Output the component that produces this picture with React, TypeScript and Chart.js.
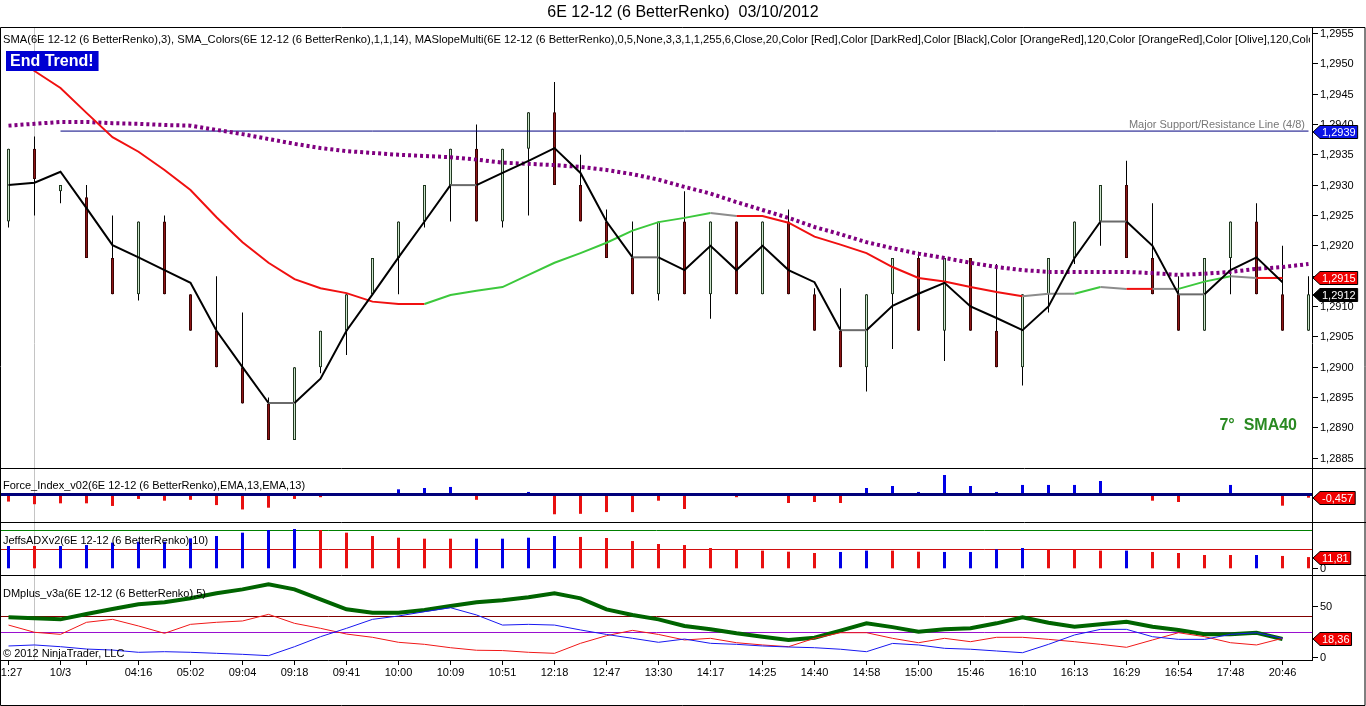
import { useEffect, useRef } from 'react';
import { Chart, registerables } from 'chart.js';

Chart.register(...registerables);

const FONT = '"Liberation Sans", Arial, Helvetica, sans-serif';

// ---------- texts ----------
const chartTitle = '6E 12-12 (6 BetterRenko)  03/10/2012';
const priceIndicatorVisible =
  'SMA(6E 12-12 (6 BetterRenko),3), SMA_Colors(6E 12-12 (6 BetterRenko),1,1,14), MASlopeMulti(6E 12-12 (6 BetterRenko),0,5,None,3,3,1,1,255,6,Close,20,Color [Red],Color [DarkRed],Color [Black],Color [OrangeRed],120,Color [OrangeRed],Color [Olive],120,Col';
const priceIndicatorLabel = priceIndicatorVisible + 'or [Olive],Color [Green]';
const forceLabel = 'Force_Index_v02(6E 12-12 (6 BetterRenko),EMA,13,EMA,13)';
const adxLabel = 'JeffsADXv2(6E 12-12 (6 BetterRenko),10)';
const dmLabel = 'DMplus_v3a(6E 12-12 (6 BetterRenko),5)';
const copyrightLabel = '\u00a9 2012 NinjaTrader, LLC';
const srLabel = 'Major Support/Resistance Line (4/8)';
const signalText = 'End Trend!';
const slopeText = '7\u00b0  SMA40';

// ---------- x axis ----------
const xTickIndex = [0, 2, 3, 5, 7, 9, 11, 13, 15, 17, 19, 21, 23, 25, 27, 29, 31, 33, 35, 37, 39, 41, 43, 45, 47, 49];
const xTickLabels = ['21:27', '10/3', '', '04:16', '05:02', '09:04', '09:18', '09:41', '10:00', '10:09', '10:51', '12:18', '12:47', '13:30', '14:17', '14:25', '14:40', '14:58', '15:00', '15:46', '16:10', '16:13', '16:29', '16:54', '17:48', '20:46'];

// ---------- price panel ----------
const opens = [1.2924, 1.2936, 1.2929, 1.2928, 1.2918, 1.2912, 1.2924, 1.2912, 1.2906, 1.2900, 1.2894, 1.2888, 1.2900, 1.2906, 1.2912, 1.2918, 1.2924, 1.2930, 1.2936, 1.2924, 1.2936, 1.2942, 1.2930, 1.2924, 1.2918, 1.2912, 1.2924, 1.2912, 1.2924, 1.2912, 1.2924, 1.2912, 1.2906, 1.2900, 1.2912, 1.2918, 1.2906, 1.2918, 1.2906, 1.2900, 1.2912, 1.2918, 1.2924, 1.2930, 1.2918, 1.2912, 1.2906, 1.2918, 1.2924, 1.2912, 1.2906];
const highs = [1.2936, 1.2938, 1.2930, 1.2930, 1.2925, 1.2924, 1.2925, 1.2912, 1.2915, 1.2909, 1.2895, 1.2900, 1.2906, 1.2912, 1.2918, 1.2924, 1.2930, 1.2936, 1.2940, 1.2936, 1.2942, 1.2947, 1.2935, 1.2926, 1.2924, 1.2924, 1.2929, 1.2924, 1.2924, 1.2924, 1.2926, 1.2913, 1.2913, 1.2912, 1.2918, 1.2919, 1.2918, 1.2918, 1.2917, 1.2912, 1.2918, 1.2924, 1.2930, 1.2934, 1.2927, 1.2915, 1.2918, 1.2924, 1.2927, 1.2920, 1.2915];
const lows = [1.2923, 1.2925, 1.2927, 1.2918, 1.2912, 1.2911, 1.2912, 1.2906, 1.2900, 1.2894, 1.2888, 1.2888, 1.2899, 1.2902, 1.2912, 1.2912, 1.2923, 1.2924, 1.2924, 1.2923, 1.2925, 1.2930, 1.2924, 1.2918, 1.2912, 1.2911, 1.2912, 1.2908, 1.2912, 1.2912, 1.2912, 1.2906, 1.2900, 1.2896, 1.2903, 1.2906, 1.2901, 1.2906, 1.2900, 1.2897, 1.2909, 1.2917, 1.2920, 1.2918, 1.2912, 1.2906, 1.2906, 1.2912, 1.2912, 1.2906, 1.2906];
const closes = [1.2936, 1.2931, 1.2930, 1.2918, 1.2912, 1.2924, 1.2912, 1.2906, 1.2900, 1.2894, 1.2888, 1.2900, 1.2906, 1.2912, 1.2918, 1.2924, 1.2930, 1.2936, 1.2924, 1.2936, 1.2942, 1.2930, 1.2924, 1.2918, 1.2912, 1.2924, 1.2912, 1.2924, 1.2912, 1.2924, 1.2912, 1.2906, 1.2900, 1.2912, 1.2918, 1.2906, 1.2918, 1.2906, 1.2900, 1.2912, 1.2918, 1.2924, 1.2930, 1.2918, 1.2912, 1.2906, 1.2918, 1.2924, 1.2912, 1.2906, 1.2912];

const sma3 = [1.29300, 1.29304, 1.29322, 1.29262, 1.29201, 1.29181, 1.29160, 1.29139, 1.29060, 1.29000, 1.28941, 1.28941, 1.28981, 1.29060, 1.29120, 1.29181, 1.29240, 1.29300, 1.29300, 1.29320, 1.29340, 1.29361, 1.29320, 1.29240, 1.29181, 1.29181, 1.29160, 1.29200, 1.29160, 1.29200, 1.29160, 1.29140, 1.29061, 1.29061, 1.29101, 1.29121, 1.29139, 1.29100, 1.29081, 1.29061, 1.29100, 1.29180, 1.29240, 1.29240, 1.29200, 1.29120, 1.29120, 1.29160, 1.29181, 1.29140, null];
const maSlope = [1.29515, 1.29488, 1.29460, 1.29419, 1.29379, 1.29355, 1.29325, 1.29292, 1.29247, 1.29206, 1.29172, 1.29145, 1.29130, 1.29122, 1.29108, 1.29104, 1.29104, 1.29119, 1.29126, 1.29132, 1.29152, 1.29172, 1.29188, 1.29205, 1.29225, 1.29239, 1.29246, 1.29254, 1.29249, 1.29249, 1.29238, 1.29215, 1.29202, 1.29188, 1.29165, 1.29147, 1.29141, 1.29132, 1.29124, 1.29117, 1.29121, 1.29121, 1.29132, 1.29129, 1.29129, 1.29129, 1.29141, 1.29150, 1.29147, 1.29147, null];
// slope state of the segment that ends at each bar: D = down, U = up, F = flat
const maState = ['D', 'D', 'D', 'D', 'D', 'D', 'D', 'D', 'D', 'D', 'D', 'D', 'D', 'D', 'D', 'D', 'D', 'U', 'U', 'U', 'U', 'U', 'U', 'U', 'U', 'U', 'U', 'U', 'F', 'D', 'D', 'D', 'D', 'D', 'D', 'D', 'D', 'D', 'D', 'D', 'F', 'F', 'U', 'F', 'D', 'F', 'U', 'U', 'F', 'D', 'D'];
const sma40 = [1.29398, 1.29401, 1.29404, 1.29404, 1.29402, 1.29401, 1.29399, 1.29398, 1.29391, 1.29384, 1.29376, 1.29368, 1.29361, 1.29356, 1.29353, 1.29350, 1.29348, 1.29346, 1.29342, 1.29337, 1.29335, 1.29333, 1.29330, 1.29325, 1.29318, 1.29309, 1.29297, 1.29286, 1.29272, 1.29259, 1.29246, 1.29231, 1.29219, 1.29206, 1.29196, 1.29187, 1.29180, 1.29172, 1.29165, 1.29160, 1.29157, 1.29157, 1.29157, 1.29157, 1.29155, 1.29152, 1.29154, 1.29157, 1.29162, 1.29165, 1.29170];

const srLevel = 1.29389;
const srStartBar = 2;
const srEndBar = 50;
const cursorBar = 1;
const priceTicks = [1.2885, 1.2890, 1.2895, 1.2900, 1.2905, 1.2910, 1.2915, 1.2920, 1.2925, 1.2930, 1.2935, 1.2940, 1.2945, 1.2950, 1.2955];

// ---------- Force index ----------
const forceIndex = [-0.9, -1.2, -1.1, -1.1, -1.4, -0.6, -0.8, -0.7, -1.3, -1.8, -1.6, -0.6, -0.4, -0.05, 0.03, 0.5, 0.65, 0.77, -0.7, -0.1, 0.2, -2.35, -2.3, -2.1, -2.1, -0.8, -1.75, -0.1, -0.4, 0.02, -1.06, -0.95, -1.06, 0.65, 0.88, 0.2, 2.14, 0.88, 0.2, 1.0, 1.0, 1.0, 1.45, 0.03, -0.8, -0.95, 0.02, 1.0, 0.02, -1.37, -0.457];

// ---------- Jeffs ADX ----------
const adxValues = [23.5, 23.5, 23.5, 24.5, 27, 28, 28, 31.5, 34, 37.5, 40.3, 41.4, 40.3, 37.5, 34, 32.2, 31.2, 31.2, 31.2, 31.2, 32.2, 34, 33, 31.9, 28.7, 25.6, 24.5, 21.4, 20, 18.6, 17.5, 16.1, 17.2, 18.6, 18.6, 17.5, 17.2, 17.2, 20, 21.4, 20, 20, 18.6, 18.6, 17.2, 16.1, 14, 14, 14, 13, 11.81];
// B = DI+ dominant (blue), R = DI- dominant (red)
const adxDir = ['B', 'R', 'B', 'B', 'B', 'B', 'B', 'B', 'B', 'B', 'B', 'B', 'R', 'R', 'R', 'R', 'R', 'R', 'B', 'B', 'B', 'B', 'R', 'R', 'R', 'R', 'R', 'R', 'R', 'R', 'R', 'R', 'B', 'B', 'R', 'R', 'B', 'B', 'B', 'B', 'R', 'R', 'R', 'B', 'R', 'R', 'R', 'R', 'B', 'R', 'R'];
const adxLevels = [20, 40];
const adxTicks = [0];

// ---------- DMplus ----------
const dmAdx = [39.6, 38.6, 37.6, 42.8, 47.7, 52.3, 54.3, 58.2, 63.1, 67, 72, 67, 57.2, 47.4, 44.1, 44.1, 46.8, 50.7, 54.3, 56.3, 59.2, 63.1, 58.2, 47.4, 41.9, 37.6, 31.1, 27.8, 23.9, 20.6, 17.4, 19.6, 26.5, 33.7, 30, 25.5, 27.8, 28.8, 33.7, 39.6, 34.3, 30.4, 32.7, 35.3, 30.4, 27.2, 22.9, 22.9, 24.5, 18.36, null];
const diMinus = [32, 24.9, 22.9, 34.7, 37.6, 31.1, 23.9, 32.7, 34.7, 36, 42.5, 33.7, 28.8, 23.2, 20, 15.1, 13.1, 9.8, 7.3, 7, 5.3, 4.3, 14.1, 21.6, 26.8, 22.8, 17.4, 19, 14.7, 12.5, 10.8, 19, 24.5, 24.5, 19, 14.7, 19, 15.7, 20, 20, 18, 15.7, 13.1, 10.2, 17.4, 24.5, 20.6, 14.7, 12.5, 19, null];
const diPlus = [11.5, 12.5, 10.8, 8.5, 7.5, 5.3, 5.9, 5.3, 4.3, 3.3, 2, 10.8, 20.6, 28.8, 37.6, 40.9, 45.1, 49, 41.9, 32, 32.7, 32, 27.2, 22.8, 19, 15.1, 18.3, 14.1, 13.1, 11.5, 10.5, 9.8, 8.3, 5.9, 14, 12.5, 9.2, 8.3, 6.6, 4.9, 13.1, 22.3, 27.8, 27.8, 20.6, 18, 18, 22.9, 24.5, 19, null];
const dmLevels = [25, 40];
const dmTicks = [0, 50];

// ---------- geometry (layout only) ----------
const W = 1366;
const H = 706;
const AREA = { left: 1, right: 1312, top: 27, bottom: 660 };
const FIRST_BAR_X = 8.5;
const BAR_STEP = 26;
const PANEL = { price: [27, 468], force: [468, 522], adx: [522, 575], dm: [575, 660] };
const PANEL_RANGE = { price: [1.295605, 1.288339], force: [2.937, -3.234], adx: [48.74, -7.05], dm: [81.08, -2.25] };

function axisSpan(panel: number[], range: number[]) {
  const k = (range[1] - range[0]) / (panel[1] - panel[0]);
  return { max: range[0] + (AREA.top - panel[0]) * k, min: range[0] + (AREA.bottom - panel[0]) * k };
}

const COLORS = {
  upFill: '#cde5cd', upLine: '#203820', downFill: '#8e1414', downLine: '#3a0505',
  maUp: '#3cc83c', maDown: '#f01010', maFlat: '#8c8c8c',
  blue: '#0000e6', red: '#e81010',
};

const fmt = (v: number, d: number) => v.toFixed(d).replace('.', ',');
const lastValue = (arr: (number | null)[]) => { for (let i = arr.length - 1; i >= 0; i--) if (arr[i] != null) return arr[i] as number; return 0; };
const pts = (arr: (number | null)[]) => arr.map((v, i) => ({ x: i, y: v }));

function drawFlag(ctx: any, tipX: number, y: number, text: string, bg: string) {
  ctx.font = `11px ${FONT}`;
  const tw = ctx.measureText(text).width;
  const h = 13;
  const bx = tipX + 7;
  const bw = tw + 4;
  const top = Math.round(y - h / 2) + 0.5;
  ctx.beginPath();
  ctx.moveTo(tipX, top + h / 2);
  ctx.lineTo(bx, top);
  ctx.lineTo(bx + bw, top);
  ctx.lineTo(bx + bw, top + h);
  ctx.lineTo(bx, top + h);
  ctx.closePath();
  ctx.fillStyle = bg;
  ctx.fill();
  ctx.strokeStyle = '#000';
  ctx.lineWidth = 1;
  ctx.stroke();
  ctx.fillStyle = '#fff';
  ctx.textAlign = 'left';
  ctx.textBaseline = 'middle';
  ctx.fillText(text, bx + 2, top + h / 2 + 0.5);
}

const decorPlugin = {
  id: 'ninjaDecor',
  beforeDatasetsDraw(chart: any) {
    const { ctx, chartArea: a, scales } = chart;
    ctx.save();
    const hline = (y: number, color: string) => {
      const yy = Math.floor(y) + 0.5;
      ctx.strokeStyle = color;
      ctx.lineWidth = 1;
      ctx.beginPath();
      ctx.moveTo(a.left, yy);
      ctx.lineTo(a.right, yy);
      ctx.stroke();
    };
    // crosshair
    const cx = Math.floor(scales.x.getPixelForValue(cursorBar)) + 0.5;
    ctx.strokeStyle = '#c4c4c4';
    ctx.lineWidth = 1;
    ctx.beginPath();
    ctx.moveTo(cx, a.top);
    ctx.lineTo(cx, a.bottom);
    ctx.stroke();
    hline(scales.yAdx.getPixelForValue(adxLevels[0]), '#d01010');
    hline(scales.yAdx.getPixelForValue(adxLevels[1]), '#008000');
    hline(scales.yDm.getPixelForValue(dmLevels[0]), '#9a10d0');
    hline(scales.yDm.getPixelForValue(dmLevels[1]), '#800000');
    ctx.restore();
  },
  afterDatasetsDraw(chart: any) {
    const { ctx, chartArea: a, scales } = chart;
    ctx.save();
    const y0 = Math.round(scales.yForce.getPixelForValue(0));
    ctx.strokeStyle = '#00007a';
    ctx.lineWidth = 3;
    ctx.beginPath();
    ctx.moveTo(a.left, y0 + 0.5);
    ctx.lineTo(a.right, y0 + 0.5);
    ctx.stroke();
    ctx.restore();
  },
  afterDraw(chart: any) {
    const { ctx, chartArea: a, scales } = chart;
    ctx.save();
    // title
    ctx.fillStyle = '#000';
    ctx.font = `16px ${FONT}`;
    ctx.textAlign = 'center';
    ctx.textBaseline = 'middle';
    ctx.fillText(chartTitle, W / 2, 13);

    // panel labels (clipped to plot)
    ctx.save();
    ctx.beginPath();
    ctx.rect(a.left, a.top, a.right - a.left - 2, a.bottom - a.top);
    ctx.clip();
    ctx.textAlign = 'left';
    ctx.fillStyle = '#000';
    // top label: size chosen so the visible part spans the plot width, as in NinjaTrader
    ctx.font = `11px ${FONT}`;
    const visW = ctx.measureText(priceIndicatorVisible).width;
    const topSize = (11 * (a.right - 5)) / visW;
    ctx.font = `${topSize.toFixed(2)}px ${FONT}`;
    ctx.fillText(priceIndicatorLabel, 3, PANEL.price[0] + 12.5);
    ctx.font = `11px ${FONT}`;
    ctx.fillText(forceLabel, 3, PANEL.force[0] + 18);
    ctx.fillText(adxLabel, 3, PANEL.adx[0] + 19);
    ctx.fillText(dmLabel, 3, PANEL.dm[0] + 18.5);
    ctx.fillText(copyrightLabel, 3, PANEL.dm[1] - 6);
    // S/R text
    ctx.fillStyle = '#777';
    ctx.textAlign = 'right';
    ctx.fillText(srLabel, a.right - 7, scales.yPrice.getPixelForValue(srLevel) - 6.5);
    ctx.restore();

    // End Trend box
    ctx.font = `bold 16px ${FONT}`;
    const tw = ctx.measureText(signalText).width;
    ctx.fillStyle = '#0000d2';
    ctx.fillRect(6, 51, tw + 9, 20);
    ctx.fillStyle = '#fff';
    ctx.textAlign = 'left';
    ctx.textBaseline = 'middle';
    ctx.fillText(signalText, 10, 61.5);

    // slope text
    ctx.fillStyle = '#2a8a22';
    ctx.textAlign = 'right';
    ctx.fillText(slopeText, a.right - 15, 426);

    // frame and separators
    ctx.strokeStyle = '#000';
    ctx.lineWidth = 1;
    ctx.beginPath();
    ctx.rect(0.5, a.top + 0.5, W - 1.5, H - a.top - 1);
    ctx.moveTo(a.right + 0.5, a.top);
    ctx.lineTo(a.right + 0.5, a.bottom);
    [PANEL.force[0], PANEL.adx[0], PANEL.dm[0]].forEach((y) => {
      ctx.moveTo(0, y + 0.5);
      ctx.lineTo(W, y + 0.5);
    });
    ctx.moveTo(0, a.bottom + 0.5);
    ctx.lineTo(a.right + 1, a.bottom + 0.5);
    ctx.stroke();

    // right axis ticks
    ctx.font = `11px ${FONT}`;
    ctx.textAlign = 'left';
    ctx.textBaseline = 'middle';
    ctx.fillStyle = '#000';
    const tick = (y: number, text: string) => {
      const yy = Math.floor(y) + 0.5;
      ctx.beginPath();
      ctx.moveTo(a.right + 1, yy);
      ctx.lineTo(a.right + 6, yy);
      ctx.stroke();
      ctx.fillText(text, a.right + 8, yy + 0.5);
    };
    priceTicks.forEach((v) => tick(scales.yPrice.getPixelForValue(v), fmt(v, 4)));
    adxTicks.forEach((v) => tick(scales.yAdx.getPixelForValue(v), String(v)));
    dmTicks.forEach((v) => tick(scales.yDm.getPixelForValue(v), String(v)));

    // value flags
    const tip = a.right + 1;
    drawFlag(ctx, tip, scales.yPrice.getPixelForValue(srLevel), fmt(srLevel, 4), '#0a14e6');
    drawFlag(ctx, tip, scales.yPrice.getPixelForValue(lastValue(maSlope)), fmt(lastValue(maSlope), 4), '#f00000');
    drawFlag(ctx, tip, scales.yPrice.getPixelForValue(lastValue(closes)), fmt(lastValue(closes), 4), '#000');
    drawFlag(ctx, tip, scales.yForce.getPixelForValue(lastValue(forceIndex)), fmt(lastValue(forceIndex), 3), '#f00000');
    drawFlag(ctx, tip, scales.yAdx.getPixelForValue(lastValue(adxValues)), fmt(lastValue(adxValues), 2), '#f00000');
    drawFlag(ctx, tip, scales.yDm.getPixelForValue(lastValue(dmAdx)), fmt(lastValue(dmAdx), 2), '#f00000');
    ctx.restore();
  },
};

function buildConfig(): any {
  const priceSpan = axisSpan(PANEL.price, PANEL_RANGE.price);
  const forceSpan = axisSpan(PANEL.force, PANEL_RANGE.force);
  const adxSpan = axisSpan(PANEL.adx, PANEL_RANGE.adx);
  const dmSpan = axisSpan(PANEL.dm, PANEL_RANGE.dm);
  const hidden = (span: any) => ({ type: 'linear', display: false, bounds: 'data', min: span.min, max: span.max, grid: { display: false } });

  const isUp = (i: number) => closes[i] >= opens[i];

  return {
    type: 'bar',
    data: {
      datasets: [
        {
          type: 'bar', yAxisID: 'yPrice', order: 20, grouped: false,
          data: lows.map((l, i) => ({ x: i, y: [l, highs[i]] })),
          backgroundColor: '#000', barThickness: 1, inflateAmount: 0, borderWidth: 0,
        },
        {
          type: 'bar', yAxisID: 'yPrice', order: 19, grouped: false,
          data: opens.map((o, i) => ({ x: i, y: [o, closes[i]] })),
          backgroundColor: (c: any) => (isUp(c.dataIndex) ? COLORS.upFill : COLORS.downFill),
          borderColor: (c: any) => (isUp(c.dataIndex) ? COLORS.upLine : COLORS.downLine),
          borderWidth: 1, borderSkipped: false, barThickness: 3, inflateAmount: 0,
        },
        {
          type: 'line', yAxisID: 'yPrice', order: 9,
          data: [{ x: srStartBar, y: srLevel }, { x: srEndBar, y: srLevel }],
          borderColor: '#000080', borderWidth: 1, pointRadius: 0, tension: 0,
        },
        {
          type: 'line', yAxisID: 'yPrice', order: 8, data: pts(sma40),
          borderColor: '#800080', borderWidth: 4, borderDash: [3, 3], borderCapStyle: 'butt',
          pointRadius: 0, tension: 0,
        },
        {
          type: 'line', yAxisID: 'yPrice', order: 7, data: pts(maSlope),
          borderColor: COLORS.maDown, borderWidth: 2, pointRadius: 0, tension: 0,
          segment: {
            borderColor: (c: any) => {
              const s = maState[c.p1DataIndex];
              return s === 'U' ? COLORS.maUp : s === 'F' ? COLORS.maFlat : COLORS.maDown;
            },
          },
        },
        {
          type: 'line', yAxisID: 'yPrice', order: 6, data: pts(sma3),
          borderColor: '#000', borderWidth: 2, pointRadius: 0, tension: 0,
          segment: {
            borderColor: (c: any) => (sma3[c.p0DataIndex] === sma3[c.p1DataIndex] ? '#6a6a6a' : '#000'),
          },
        },
        {
          type: 'bar', yAxisID: 'yForce', order: 15, grouped: false, data: pts(forceIndex),
          backgroundColor: (c: any) => (forceIndex[c.dataIndex] >= 0 ? COLORS.blue : COLORS.red),
          barThickness: 3, inflateAmount: 0, borderWidth: 0,
        },
        {
          type: 'bar', yAxisID: 'yAdx', order: 15, grouped: false, data: pts(adxValues),
          backgroundColor: (c: any) => (adxDir[c.dataIndex] === 'B' ? COLORS.blue : COLORS.red),
          barThickness: 3, inflateAmount: 0, borderWidth: 0,
        },
        {
          type: 'line', yAxisID: 'yDm', order: 5, data: pts(dmAdx),
          borderColor: '#006400', borderWidth: 4, pointRadius: 0, tension: 0,
        },
        {
          type: 'line', yAxisID: 'yDm', order: 4, data: pts(diMinus),
          borderColor: '#f01818', borderWidth: 1, pointRadius: 0, tension: 0,
        },
        {
          type: 'line', yAxisID: 'yDm', order: 3, data: pts(diPlus),
          borderColor: '#1818f0', borderWidth: 1, pointRadius: 0, tension: 0,
        },
      ],
    },
    options: {
      responsive: false,
      maintainAspectRatio: false,
      devicePixelRatio: 1,
      animation: false,
      events: [],
      layout: { padding: { left: AREA.left, right: W - AREA.right, top: AREA.top, bottom: 0 } },
      plugins: { legend: { display: false }, tooltip: { enabled: false }, title: { display: false } },
      scales: {
        x: {
          type: 'linear',
          position: 'bottom',
          bounds: 'data',
          offset: false,
          min: (AREA.left - FIRST_BAR_X) / BAR_STEP,
          max: (AREA.right - FIRST_BAR_X) / BAR_STEP,
          grid: { display: true, offset: false, drawOnChartArea: false, drawTicks: true, tickLength: 5, color: '#000', lineWidth: 1 },
          border: { display: false },
          ticks: {
            autoSkip: false, maxRotation: 0, minRotation: 0, padding: 1, color: '#000',
            font: { family: FONT, size: 11 },
            callback: (v: any) => {
              const k = xTickIndex.indexOf(v);
              return k >= 0 ? xTickLabels[k] : '';
            },
          },
          afterBuildTicks: (s: any) => {
            s.ticks = xTickIndex.map((v) => ({ value: v }));
          },
          afterFit: (s: any) => {
            s.height = H - AREA.bottom;
            s.paddingLeft = 0;
            s.paddingRight = 0;
          },
        },
        yPrice: hidden(priceSpan),
        yForce: hidden(forceSpan),
        yAdx: hidden(adxSpan),
        yDm: hidden(dmSpan),
      },
    },
    plugins: [decorPlugin],
  };
}

export default function App() {
  const ref = useRef<HTMLCanvasElement>(null);
  useEffect(() => {
    if (!ref.current) return;
    const chart = new Chart(ref.current, buildConfig());
    return () => chart.destroy();
  }, []);
  return (
    <div style={{ position: 'fixed', left: 0, top: 0, width: W, height: H, background: '#fff', overflow: 'hidden' }}>
      <canvas ref={ref} width={W} height={H} style={{ display: 'block', width: W, height: H }} />
    </div>
  );
}
